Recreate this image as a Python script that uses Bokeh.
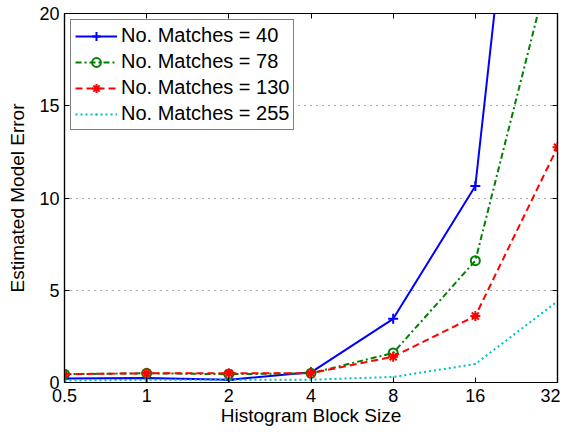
from bokeh.plotting import figure
from bokeh.models import (FixedTicker, LogAxis, LinearAxis, Legend, LegendItem,
                          CustomJSTickFormatter, Range1d)
from bokeh.embed import file_html
from bokeh.resources import INLINE

block_sizes = [0.5, 1, 2, 4, 8, 16, 32]
err_40 = [0.22, 0.25, 0.15, 0.55, 3.45, 10.65, 51.0]
err_78 = [0.45, 0.5, 0.45, 0.5, 1.6, 6.6, 24.2]
err_130 = [0.45, 0.5, 0.5, 0.5, 1.4, 3.6, 12.75]
err_255 = [0.1, 0.15, 0.15, 0.15, 0.3, 1.0, 4.4]
labels = ["No. Matches = 40", "No. Matches = 78", "No. Matches = 130", "No. Matches = 255"]
x_ticks = [0.5, 1, 2, 4, 8, 16, 32]
y_ticks = [0, 5, 10, 15, 20]

FONT = "Liberation Sans"

p = figure(frame_width=493, frame_height=369, output_backend="svg", toolbar_location=None,
           x_axis_type="log", x_range=Range1d(0.5, 32), y_range=Range1d(0, 20),
           min_border_left=64, min_border_right=3, min_border_top=13, min_border_bottom=0)
p.outline_line_color = "black"
p.outline_line_width = 1.2
p.background_fill_color = "white"
p.border_fill_color = "white"

fmt = CustomJSTickFormatter(code="return tick.toString();")

def style_axis(ax, show_labels=True):
    ax.major_tick_in = 5
    ax.major_tick_out = 0
    ax.minor_tick_line_color = None
    ax.axis_line_color = "black"
    ax.axis_line_width = 1.2
    ax.major_tick_line_color = "black"
    ax.major_label_text_font = FONT
    ax.major_label_text_font_size = "18px"
    ax.major_label_text_color = "black" if show_labels else None
    ax.axis_label_text_font = FONT
    ax.axis_label_text_font_size = "19px"
    ax.axis_label_text_font_style = "normal"
    ax.axis_label_text_color = "black"

xa = p.xaxis[0]
xa.ticker = FixedTicker(ticks=x_ticks)
xa.formatter = fmt
xa.axis_label = "Histogram Block Size"
xa.axis_label_standoff = 0
xa.major_label_standoff = 6
style_axis(xa)

ya = p.yaxis[0]
ya.ticker = FixedTicker(ticks=y_ticks)
ya.axis_label = "Estimated Model Error"
ya.axis_label_standoff = 8
ya.major_label_standoff = 5
style_axis(ya)

top = LogAxis(ticker=FixedTicker(ticks=x_ticks))
style_axis(top, show_labels=False)
top.major_label_text_font_size = "0px"
top.major_label_standoff = 0
p.add_layout(top, "above")
right = LinearAxis(ticker=FixedTicker(ticks=y_ticks))
style_axis(right, show_labels=False)
right.major_label_text_font_size = "0px"
right.major_label_standoff = 0
p.add_layout(right, "right")

p.xgrid.grid_line_color = None
p.ygrid.ticker = FixedTicker(ticks=[5, 10, 15])
p.ygrid.grid_line_color = "#555555"
p.ygrid.grid_line_dash = "1 5"
p.ygrid.grid_line_width = 1

items = []
l1 = p.line(block_sizes, err_40, line_color="#0000ff", line_width=2)
m1 = p.scatter(block_sizes, err_40, marker="cross", size=10, line_color="#0000ff", line_width=2)
items.append(LegendItem(label=labels[0], renderers=[l1, m1]))

l2 = p.line(block_sizes, err_78, line_color="#008000", line_width=2, line_dash="6 3 2 3")
m2 = p.scatter(block_sizes, err_78, marker="circle", size=9, line_color="#008000",
               fill_color=None, line_width=2)
items.append(LegendItem(label=labels[1], renderers=[l2, m2]))

l3 = p.line(block_sizes, err_130, line_color="#ff0000", line_width=2, line_dash="7 4")
m3 = p.scatter(block_sizes, err_130, marker="asterisk", size=10, line_color="#ff0000", line_width=2)
items.append(LegendItem(label=labels[2], renderers=[l3, m3]))

l4 = p.line(block_sizes, err_255, line_color="#00bfbf", line_width=2, line_dash="2 3")
m4 = p.scatter(block_sizes, err_255, marker="dot", size=6, line_color="#00bfbf", line_width=1)
items.append(LegendItem(label=labels[3], renderers=[l4, m4]))

legend = Legend(items=items, location="top_left")
legend.border_line_color = "black"
legend.border_line_width = 1
legend.label_text_font = FONT
legend.label_text_font_size = "20px"
legend.label_text_color = "black"
legend.glyph_width = 42
legend.glyph_height = 22
legend.label_height = 22
legend.spacing = 3
legend.padding = 4
legend.margin = 6
legend.label_standoff = 4
legend.background_fill_alpha = 1
p.add_layout(legend)

open("out.html", "w").write(file_html(p, INLINE))
